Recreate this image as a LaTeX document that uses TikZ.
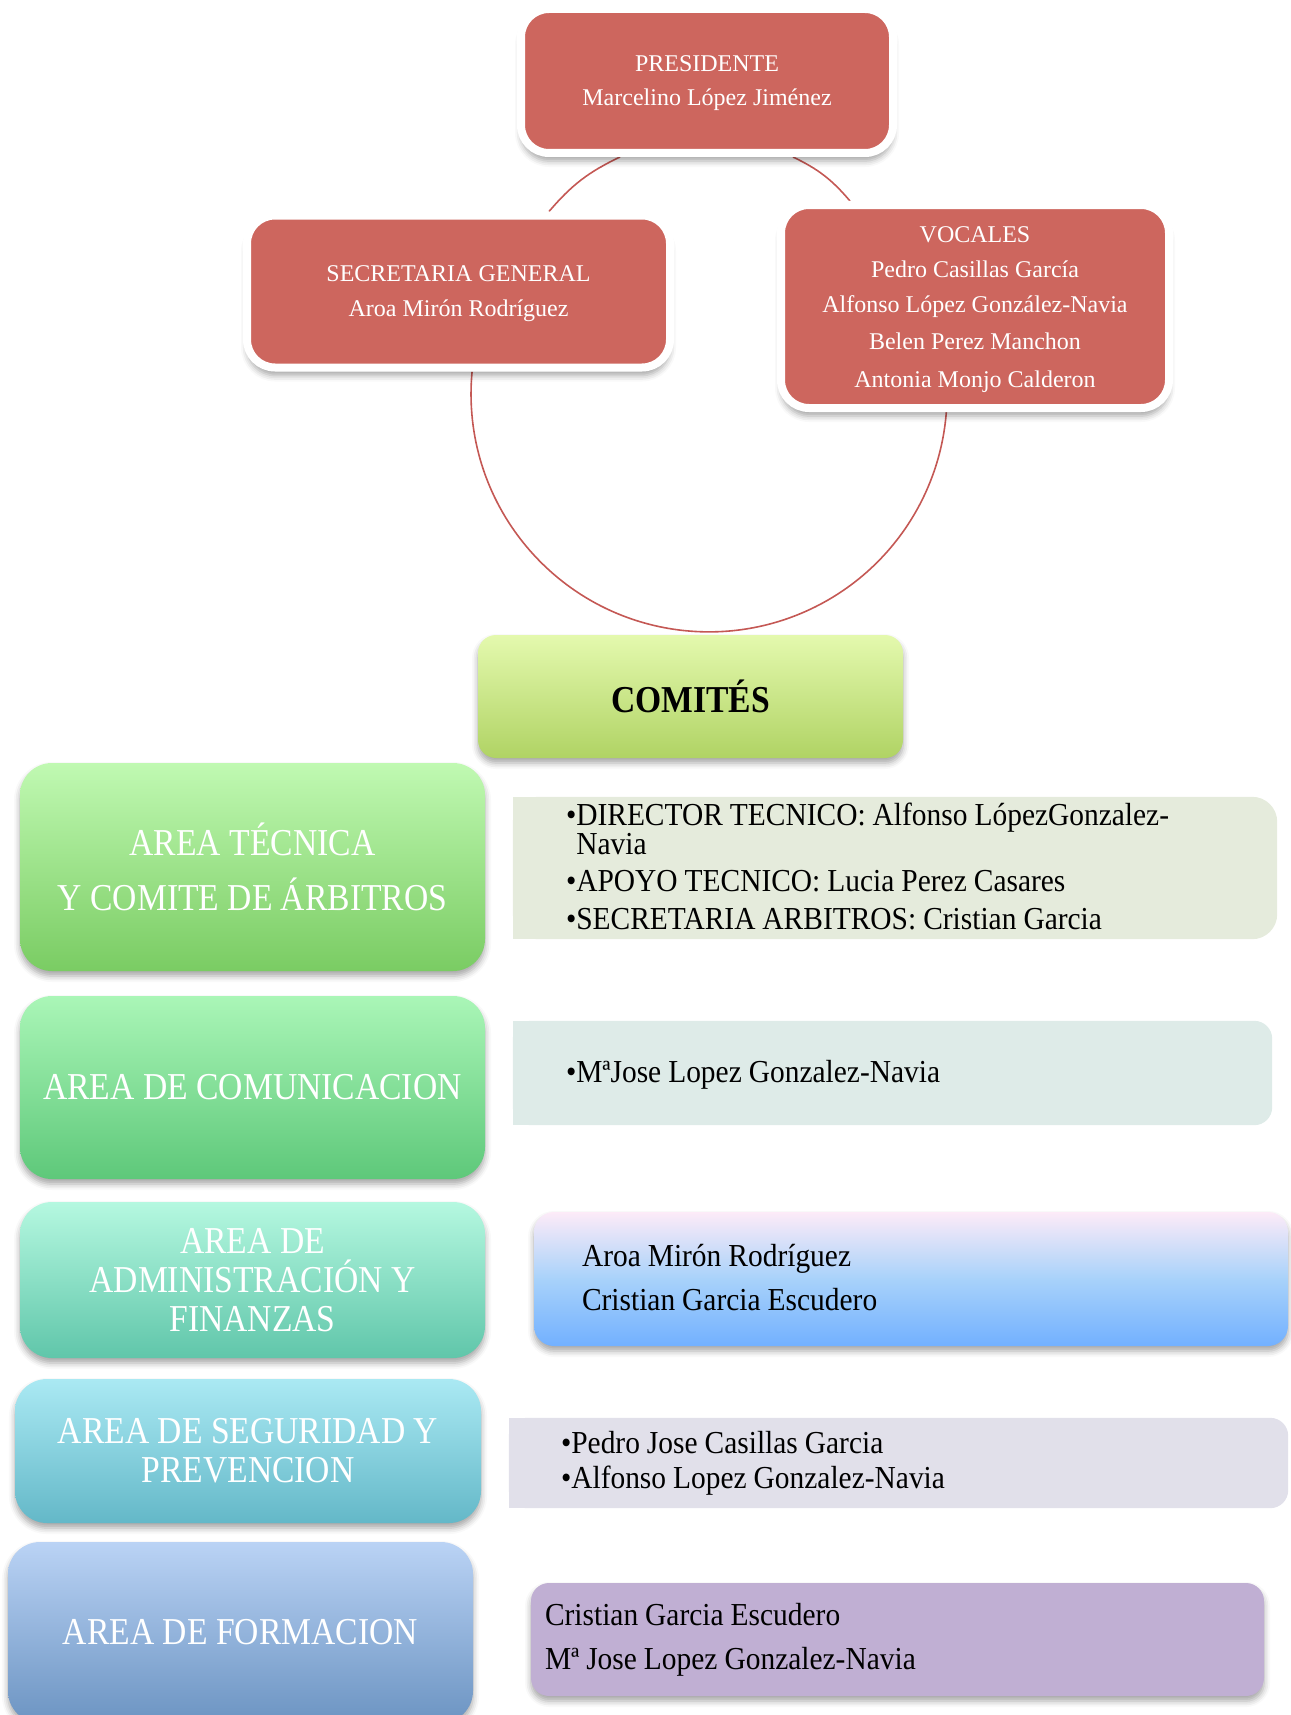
\documentclass[tikz,border=0pt]{standalone}
\usepackage{fontspec}
\setmainfont{Liberation Serif}
\newfontfamily\leftfont{Liberation Serif}[FakeStretch=0.885]
\newfontfamily\rightfont{Liberation Serif}[FakeStretch=0.92]
\usetikzlibrary{shadows.blur}
\pgfdeclarelayer{under}
\pgfsetlayers{under,main}
\definecolor{redboxc}{RGB}{205,102,94}
\definecolor{redline}{RGB}{196,88,84}
\definecolor{comtop}{RGB}{228,249,174}
\definecolor{combot}{RGB}{176,211,100}
\definecolor{aonetop}{RGB}{192,249,178}
\definecolor{aonebot}{RGB}{122,204,99}
\definecolor{atwotop}{RGB}{170,246,183}
\definecolor{atwobot}{RGB}{94,200,122}
\definecolor{athreetop}{RGB}{181,248,224}
\definecolor{athreebot}{RGB}{96,198,170}
\definecolor{afourtop}{RGB}{170,233,243}
\definecolor{afourbot}{RGB}{100,184,200}
\definecolor{afivetop}{RGB}{186,211,245}
\definecolor{afivebot}{RGB}{108,148,194}
\definecolor{ronec}{RGB}{229,235,220}
\definecolor{rtwoc}{RGB}{222,235,232}
\definecolor{rthreetop}{RGB}{253,235,248}
\definecolor{rthreemid}{RGB}{168,210,250}
\definecolor{rthreebot}{RGB}{114,176,255}
\definecolor{rfourc}{RGB}{225,224,234}
\definecolor{rfivec}{RGB}{192,175,211}
\tikzset{
  shd/.style={blur shadow={shadow xshift=0pt, shadow yshift=-5pt, shadow blur radius=6pt, shadow opacity=35}},
  redshd/.style={blur shadow={shadow xshift=0pt, shadow yshift=-8pt, shadow blur radius=6pt, shadow opacity=35}},
  redbox/.style={redshd, draw=white, line width=8pt, fill=redboxc, rounded corners=28pt,
    text=white, align=center, inner sep=0pt, font=\fontsize{24}{35}\selectfont},
  areabox/.style={shd, rounded corners=32pt, text=white, align=center, inner sep=0pt,
    font=\leftfont\fontsize{38}{39}\selectfont, minimum width=465pt},
  rbox/.style={inner sep=0pt},
  rtext/.style={anchor=base west, inner sep=0pt, text width=700pt, align=left,
    font=\rightfont\fontsize{32}{29}\selectfont,
    execute at begin node={\spaceskip=7pt plus 1pt minus 1pt\relax}},
  conn/.style={draw=redline, line width=1.6pt},
}
\begin{document}
\begin{tikzpicture}[x=1pt,y=1pt]
\useasboundingbox (0,0) rectangle (1290,-1715);

% top cycle
\node[redbox, minimum width=372pt, minimum height=144pt, font=\fontsize{24}{34}\selectfont] (pres) at (707,-81)
  {\rule{0pt}{21pt}PRESIDENTE\\Marcelino López Jiménez};
\node[redbox, minimum width=423pt, minimum height=152pt] (sec) at (458.5,-291.5)
  {\rule{0pt}{20pt}SECRETARIA GENERAL\\Aroa Mirón Rodríguez};
\node[redbox, minimum width=388pt, minimum height=203pt, font=\fontsize{24}{34}\selectfont] (voc) at (975,-306.5)
  {\rule{0pt}{23pt}VOCALES\\[1pt]Pedro Casillas García\\[1pt]Alfonso López González-Navia\\[3pt]Belen Perez Manchon\\[4pt]Antonia Monjo Calderon};

% comites
\node[shd, rounded corners=18pt, top color=comtop, bottom color=combot,
  minimum width=425pt, minimum height=123pt, inner sep=0pt,
  font=\leftfont\bfseries\fontsize{38}{40}\selectfont] (com) at (690.5,-696.5) {COMITÉS};

% areas
\node[areabox, top color=aonetop, bottom color=aonebot, minimum height=208pt] (a1) at (252.5,-867)
  {AREA TÉCNICA\\[16pt] Y COMITE DE ÁRBITROS};
\node[areabox, top color=atwotop, bottom color=atwobot, minimum height=183pt] (a2) at (252.5,-1087.5)
  {AREA DE COMUNICACION};
\node[areabox, top color=athreetop, bottom color=athreebot, minimum height=156pt] (a3) at (252.5,-1280)
  {AREA DE\\ADMINISTRACIÓN Y\\FINANZAS};
\node[areabox, top color=afourtop, bottom color=afourbot, minimum width=466pt, minimum height=144pt] (a4) at (248,-1451)
  {AREA DE SEGURIDAD Y\\PREVENCION};
\node[areabox, top color=afivetop, bottom color=afivebot, minimum height=181pt] (a5) at (240.5,-1632.5)
  {AREA DE FORMACION};

% right boxes
\node[rbox, minimum width=764pt, minimum height=142pt] (r1) at (895,-868) {};
\node[rbox, minimum width=759pt, minimum height=104pt] (r2) at (892.5,-1073) {};
\node[rbox, shd, rounded corners=20pt, top color=rthreetop, bottom color=rthreebot, middle color=rthreemid,
  minimum width=754pt, minimum height=134pt] (r3) at (911,-1279) {};
\node[rbox, minimum width=779pt, minimum height=90pt] (r4) at (898.5,-1463) {};
\node[rbox, shd, rounded corners=18pt, fill=rfivec, minimum width=733pt, minimum height=113pt] (r5) at (897.5,-1639.5) {};

\node[rtext] (t1) at ([xshift=53pt,yshift=-29pt]r1.north west)
  {•DIRECTOR TECNICO: Alfonso LópezGonzalez-\\\phantom{•}Navia\\[8pt]•APOYO TECNICO: Lucia Perez Casares\\[9pt]•SECRETARIA ARBITROS: Cristian Garcia};
\node[rtext] (t2) at ([xshift=53pt,yshift=-62pt]r2.north west) {•MªJose Lopez Gonzalez-Navia};
\node[rtext] (t3) at ([xshift=48pt,yshift=-55pt]r3.north west) {Aroa Mirón Rodríguez\\[14pt]Cristian Garcia Escudero};
\node[rtext] (t4) at ([xshift=52pt,yshift=-36pt]r4.north west) {•Pedro Jose Casillas Garcia\\[6pt]•Alfonso Lopez Gonzalez-Navia};
\node[rtext] (t5) at ([xshift=14pt,yshift=-43pt]r5.north west) {Cristian Garcia Escudero\\[15pt]Mª Jose Lopez Gonzalez-Navia};

\begin{pgfonlayer}{under}
  \draw[conn] ([xshift=-87pt]pres.south) to[bend right=12] ([xshift=90.5pt]sec.north);
  \draw[conn] ([xshift=86pt]pres.south) to[bend left=12] ([xshift=-125pt]voc.north);
  \draw[conn] ([xshift=13.6pt]sec.south) arc[start angle=174.6, end angle=355.7, radius=238pt];
  \fill[ronec, rounded corners=25pt] (r1.south west) rectangle (r1.north east);
  \fill[ronec] (r1.south west) rectangle ([xshift=-60pt]r1.north east);
  \fill[rtwoc, rounded corners=18pt] (r2.south west) rectangle (r2.north east);
  \fill[rtwoc] (r2.south west) rectangle ([xshift=-60pt]r2.north east);
  \fill[rfourc, rounded corners=18pt] (r4.south west) rectangle (r4.north east);
  \fill[rfourc] (r4.south west) rectangle ([xshift=-60pt]r4.north east);
\end{pgfonlayer}
\end{tikzpicture}
\end{document}
